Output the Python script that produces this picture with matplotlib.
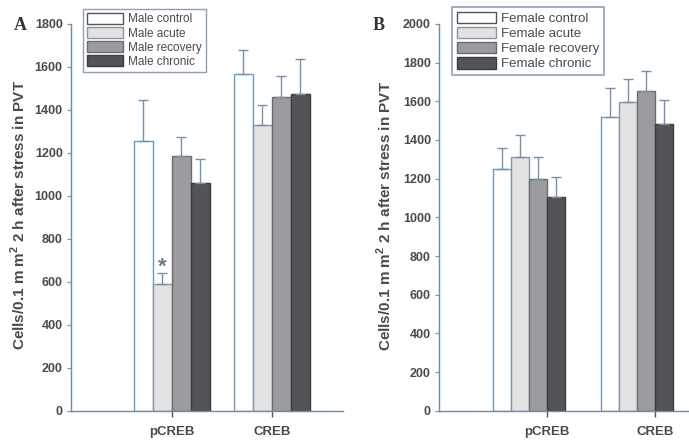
import matplotlib
matplotlib.use("Agg")
import matplotlib.pyplot as plt
from matplotlib.patches import Patch
import numpy as np

plt.rcParams['font.family'] = ['Liberation Sans Narrow', 'Liberation Sans', 'DejaVu Sans']
plt.rcParams['mathtext.fontset'] = 'custom'
plt.rcParams['mathtext.rm'] = 'Liberation Sans:bold'

# Data
proteins = ["pCREB", "CREB"]
groups = ["control", "acute", "recovery", "chronic"]

male_means = {
    "control": [1255, 1565],
    "acute": [590, 1330],
    "recovery": [1185, 1460],
    "chronic": [1060, 1475],
}
male_errs = {
    "control": [190, 115],
    "acute": [50, 95],
    "recovery": [90, 100],
    "chronic": [110, 160],
}
female_means = {
    "control": [1250, 1520],
    "acute": [1310, 1595],
    "recovery": [1200, 1655],
    "chronic": [1105, 1485],
}
female_errs = {
    "control": [110, 150],
    "acute": [115, 120],
    "recovery": [110, 100],
    "chronic": [105, 120],
}
male_yticks = [0, 200, 400, 600, 800, 1000, 1200, 1400, 1600, 1800]
female_yticks = [0, 200, 400, 600, 800, 1000, 1200, 1400, 1600, 1800, 2000]

# Styling
fill = {"control": "#ffffff", "acute": "#e2e2e2", "recovery": "#9c9ca0", "chronic": "#545458"}
edge = {"control": "#6f98bc", "acute": "#8496a8", "recovery": "#6c6c70", "chronic": "#3c3c40"}
axis_col = "#6f8aa3"
text_col = "#4a4a4e"
err_col = "#7890a8"

fig = plt.figure(figsize=(6.89, 4.41), dpi=100)


def draw_panel(rect, means, errs, width, xlim, ylim, yticks, tick_shift, prefix):
    ax = fig.add_axes(rect)
    x = np.arange(len(proteins))
    offsets = (np.arange(len(groups)) - 1.5) * width
    for g, off in zip(groups, offsets):
        ax.bar(x + off, means[g], width=width, color=fill[g], edgecolor=edge[g],
               linewidth=1.0, zorder=2)
        ax.errorbar(x + off, means[g], yerr=[np.zeros(len(x)), errs[g]], fmt='none',
                    ecolor=err_col, elinewidth=1.0, capsize=3.5, capthick=1.0, zorder=3)
    ax.set_xlim(*xlim)
    ax.set_ylim(*ylim)
    ax.set_yticks(yticks)
    ax.set_yticklabels([str(t) for t in yticks])
    ax.set_xticks(x + tick_shift)
    ax.set_xticklabels(proteins, fontweight='bold', fontsize=9.5, color=text_col)
    for s in ["top", "right"]:
        ax.spines[s].set_visible(False)
    for s in ["left", "bottom"]:
        ax.spines[s].set_color(axis_col)
        ax.spines[s].set_linewidth(1.0)
    ax.tick_params(axis='y', direction='out', length=3, width=0.8, color="#8a8a8a",
                   labelsize=9, labelcolor=text_col, pad=3)
    ax.tick_params(axis='x', direction='out', length=4, width=1.0, color="#555555", pad=7)
    for lab in ax.get_yticklabels():
        lab.set_fontweight('bold')
    handles = [Patch(facecolor=fill[g], edgecolor=edge[g] if g != "control" else "#555555",
                     linewidth=1.0, label=f"{prefix} {g}") for g in groups]
    return ax, handles, x, offsets


# Panel A: male
axA, hA, xA, offA = draw_panel([0.1030, 0.0687, 0.3948, 0.877], male_means, male_errs,
                               0.19, (-1.01, 1.71), (0, 1800), male_yticks, 0.0, "Male")
axA.text(xA[0] + offA[1], 670, "*", ha='center', va='center', fontsize=16,
         color="#6c7c8c", fontweight='bold')
legA = fig.legend(handles=hA, loc='upper left', bbox_to_anchor=(0.1205, 0.9796),
                  fontsize=8.5, frameon=True, fancybox=False, handlelength=3.0,
                  handleheight=1.0, handletextpad=0.5, labelspacing=0.15,
                  borderpad=0.35, borderaxespad=0)
legA.get_frame().set_edgecolor(axis_col)
legA.get_frame().set_linewidth(1.0)
for t in legA.get_texts():
    t.set_color(text_col)

# Panel B: female
axB, hB, xB, offB = draw_panel([0.6376, 0.0687, 0.3624, 0.877], female_means, female_errs,
                               0.167, (-0.83, 1.48), (0, 2000), female_yticks, 0.167, "Female")
legB = fig.legend(handles=hB, loc='upper left', bbox_to_anchor=(0.656, 0.984),
                  fontsize=9.5, frameon=True, fancybox=False, handlelength=3.0,
                  handleheight=1.0, handletextpad=0.4, labelspacing=0.12,
                  borderpad=0.35, borderaxespad=0)
legB.get_frame().set_edgecolor(axis_col)
legB.get_frame().set_linewidth(1.2)
for t in legB.get_texts():
    t.set_color(text_col)

# Axis titles and panel letters
ylab = "Cells/0.1 m m$^2$ 2 h after stress in PVT"
fig.text(18 / 689, 1 - 215 / 441, ylab, rotation=90, ha='center', va='center',
         fontsize=11, fontweight='bold', color=text_col)
fig.text(384 / 689, 1 - 216 / 441, ylab, rotation=90, ha='center', va='center',
         fontsize=11, fontweight='bold', color=text_col)
fig.text(20 / 689, 1 - 25 / 441, "A", ha='center', va='center', fontsize=13,
         fontweight='bold', family=['Liberation Serif', 'DejaVu Serif'], color="#333333")
fig.text(378.5 / 689, 1 - 25 / 441, "B", ha='center', va='center', fontsize=13,
         fontweight='bold', family=['Liberation Serif', 'DejaVu Serif'], color="#333333")

fig.savefig("out.png", dpi=100)
